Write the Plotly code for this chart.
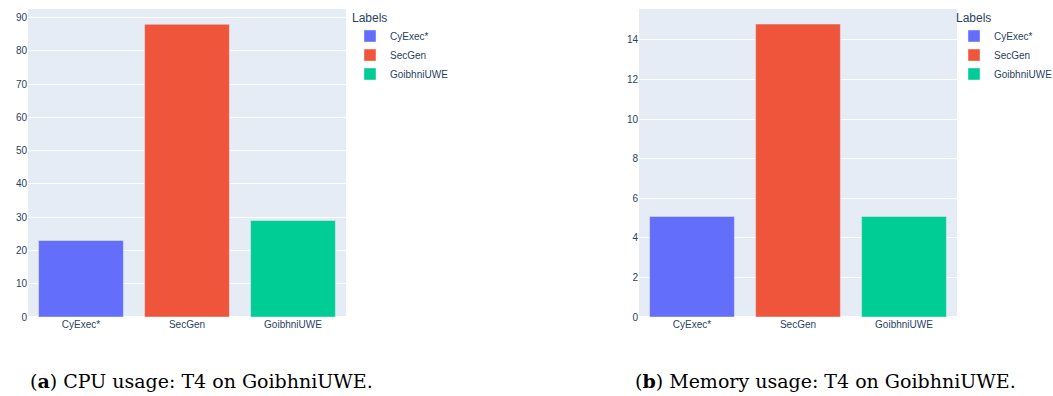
import plotly.graph_objects as go

labels = ["CyExec*", "SecGen", "GoibhniUWE"]
cpu_usage = [23, 88, 29]
memory_usage = [5.08, 14.8, 5.08]
colors = ["#636EFA", "#EF553B", "#00CC96"]
captions = ["(<b>a</b>) CPU usage: T4 on GoibhniUWE.",
            "(<b>b</b>) Memory usage: T4 on GoibhniUWE."]

W, H = 1053, 396
ml, mr, mt, mb = 28, 96, 9, 79
pw = W - ml - mr
ph = H - mt - mb

fig = go.Figure()
for lab, val, col in zip(labels, cpu_usage, colors):
    fig.add_trace(go.Bar(x=[lab], y=[val], name=lab, marker_color=col,
                         marker_line=dict(color="#E5ECF6", width=0.5),
                         xaxis="x", yaxis="y", legend="legend"))
for lab, val, col in zip(labels, memory_usage, colors):
    fig.add_trace(go.Bar(x=[lab], y=[val], name=lab, marker_color=col,
                         marker_line=dict(color="#E5ECF6", width=0.5),
                         xaxis="x2", yaxis="y2", legend="legend2"))

left_end = 318 / pw
right_start = (639 - ml) / pw

fig.update_layout(
    width=W, height=H,
    template="plotly",
    margin=dict(l=ml, r=mr, t=mt, b=mb, autoexpand=False),
    font=dict(family="Liberation Sans, Arial, sans-serif", size=10, color="#2a3f5f"),
    barmode="relative",
    xaxis=dict(domain=[0, left_end], categoryorder="array", categoryarray=labels,
               automargin=False),
    yaxis=dict(domain=[0, 1], anchor="x", range=[0, 92.6], dtick=10, automargin=False),
    xaxis2=dict(domain=[right_start, 1], anchor="y2", categoryorder="array",
                categoryarray=labels, automargin=False),
    yaxis2=dict(domain=[0, 1], anchor="x2", range=[0, 15.56], dtick=2, automargin=False),
    legend=dict(title=dict(text="Labels"), x=(350 - ml) / pw, y=1.01, xanchor="left",
                yanchor="top", font=dict(size=10), tracegroupgap=0,
                bgcolor="rgba(0,0,0,0)"),
    legend2=dict(title=dict(text="Labels"), x=(954 - ml) / pw, y=1.01, xanchor="left",
                 yanchor="top", font=dict(size=10), tracegroupgap=0,
                 bgcolor="rgba(0,0,0,0)"),
    showlegend=True,
)

cap_x = [(201 - ml) / pw, (825 - ml) / pw]
for cx, txt in zip(cap_x, captions):
    fig.add_annotation(text=txt, xref="paper", yref="paper", x=cx, y=-64 / ph,
                       xanchor="center", yanchor="middle", showarrow=False,
                       font=dict(family="DejaVu Serif, serif", size=19, color="#000000"))

fig.write_html("out.html")
